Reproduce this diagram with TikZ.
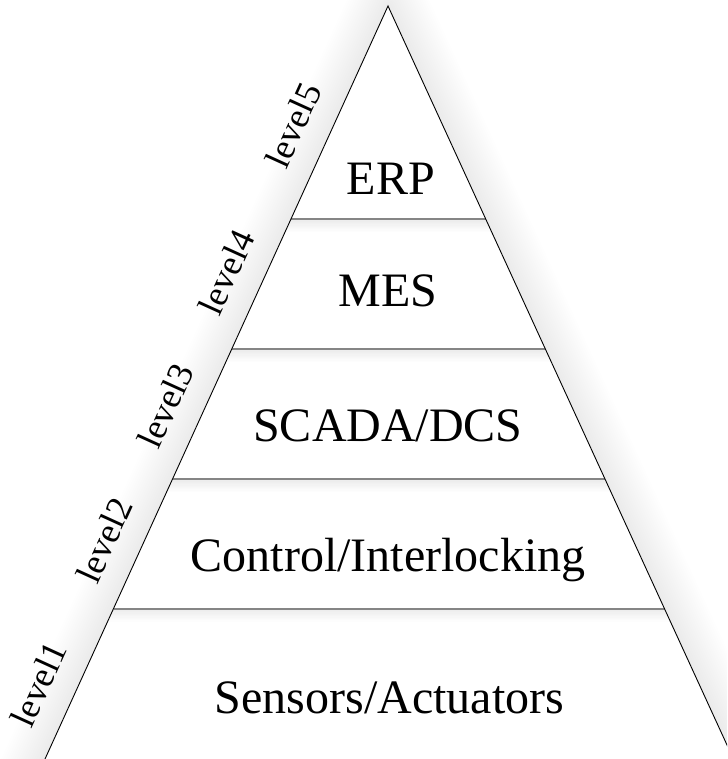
\documentclass[tikz,border=0pt]{standalone}
\usepackage{fontspec}
\setmainfont{Liberation Serif}
\begin{document}
\begin{tikzpicture}[x=1pt,y=-1pt,
  edge/.style={line width=0.9pt, black, line join=miter},
  divider/.style={line width=2pt, color=black!48},
  shadowstroke/.style={black, opacity=0.0055, line join=round},
  tier/.style={font=\fontsize{48}{58}\selectfont, anchor=base, inner sep=0pt},
  lvl/.style={font=\fontsize{36}{43}\selectfont, rotate=65.52, inner sep=0pt}]
\useasboundingbox (0,0) rectangle (727,759);
\clip (0,0) rectangle (727,759);
\coordinate (A) at (388,6);
\coordinate (BL) at (26.32,800);
\coordinate (BR) at (752.23,800);
% soft shadow around the pyramid
\foreach \w in {4,8,...,80}
  \draw[shadowstroke, line width=\w pt] (A) -- (BL) -- (BR) -- cycle;
\fill[white] (A) -- (BL) -- (BR) -- cycle;
% divider end points
\coordinate (L1) at (290.98,219);   \coordinate (R1) at (485.71,219);
\coordinate (L2) at (231.76,349);   \coordinate (R2) at (545.34,349);
\coordinate (L3) at (172.54,479);   \coordinate (R3) at (604.98,479);
\coordinate (L4) at (113.55,608.5); \coordinate (R4) at (664.39,608.5);
% shadows under the dividers
\begin{scope}
  \clip (A) -- (BL) -- (BR) -- cycle;
  \foreach \y in {219,349,479,608.5}
    \foreach \k in {1,...,10}
      \fill[black, opacity=0.006] (0,\y) rectangle (727,\y+\k*1.3);
\end{scope}
\draw[divider] (L1) -- (R1);
\draw[divider] (L2) -- (R2);
\draw[divider] (L3) -- (R3);
\draw[divider] (L4) -- (R4);
\draw[edge] (BL) -- (A) -- (BR);
% tier texts
\node[tier] (erp) at (391,195) {ERP};
\node[tier] (mes) at (388,306) {MES};
\node[tier] (scada) at (388,441) {SCADA/DCS};
\node[tier] (ctrl) at (388,571) {Control/Interlocking};
\node[tier] (sens) at (389.5,713) {Sensors/Actuators};
% level labels
\node[lvl] (lv1) at (38.5,684) {level1};
\node[lvl] (lv2) at (104.1,540) {level2};
\node[lvl] (lv3) at (165.3,405.7) {level3};
\node[lvl] (lv4) at (226.2,272) {level4};
\node[lvl] (lv5) at (293.1,125) {level5};
\end{tikzpicture}
\end{document}
